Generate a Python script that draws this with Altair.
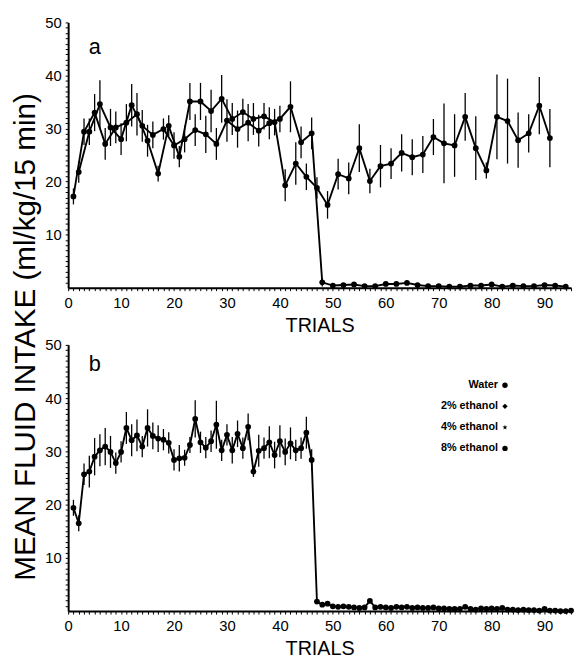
import altair as alt
import pandas as pd

# ---------------- data ----------------
# Panel a: water (odd trials) and ethanol (even trials)
water_trials = list(range(1, 92, 2))
water_mean = [17.2, 29.4, 33.0, 27.1, 30.2, 31.1, 32.7, 27.7, 21.5, 30.5,
              24.7, 35.1, 35.1, 33.3, 35.6, 31.8, 33.1, 31.8, 32.3, 31.2,
              19.3, 23.4, 20.9, 18.8, 15.6, 21.4, 20.6, 26.3, 20.1, 22.9,
              23.4, 25.4, 24.6, 25.1, 28.4, 27.2, 26.8, 32.2, 26.3, 22.1,
              32.2, 31.4, 27.8, 29.1, 34.3, 28.2]
water_sem = [1.5, 2.5, 3.5, 3.0, 3.0, 3.5, 4.0, 3.0, 1.5, 2.0,
             2.0, 3.5, 3.5, 4.0, 4.5, 3.0, 2.5, 3.0, 2.5, 2.5,
             3.0, 4.0, 2.5, 2.0, 2.6, 2.9, 3.0, 4.5, 2.3, 4.0,
             2.9, 3.5, 3.4, 3.5, 3.4, 7.5, 5.9, 4.5, 6.0, 1.5,
             8.0, 8.0, 5.2, 3.6, 5.4, 5.5]

eth_a_trials = list(range(2, 95, 2))
eth_a_mean = [21.8, 29.4, 34.6, 30.2, 28.0, 34.4, 30.5, 28.8, 29.9, 26.8,
              28.0, 29.7, 28.9, 27.1, 31.5, 29.9, 31.1, 29.6, 31.0, 31.8,
              34.1, 27.4, 29.1, 1.0, 0.4, 0.5, 0.6, 0.3, 0.3, 0.7,
              0.7, 0.9, 0.5, 0.3, 0.3, 0.2, 0.2, 0.4, 0.4, 0.6,
              0.2, 0.4, 0.3, 0.3, 0.5, 0.4, 0.2]
eth_a_sem = [2.0, 2.5, 4.5, 3.5, 3.0, 4.0, 3.0, 2.5, 2.0, 2.5,
             2.5, 3.0, 3.5, 3.0, 4.0, 3.5, 3.5, 3.0, 3.0, 2.5,
             4.8, 3.0, 3.0, 0.8, 0.3, 0.3, 0.3, 0.3, 0.3, 0.3,
             0.3, 0.3, 0.3, 0.3, 0.3, 0.3, 0.3, 0.3, 0.3, 0.3,
             0.3, 0.3, 0.3, 0.3, 0.3, 0.3, 0.3]

# Panel b: one ethanol series, every trial 1..95
b_trials = list(range(1, 96))
b_mean = [19.4, 16.5, 25.7, 26.2, 29.0, 30.2, 30.9, 29.9, 27.8, 29.9,
          34.4, 32.1, 33.0, 30.9, 34.4, 32.9, 32.4, 32.2, 31.6, 28.4,
          28.7, 28.8, 31.2, 36.1, 31.7, 30.7, 31.9, 35.0, 30.2, 33.1,
          30.2, 33.3, 30.6, 34.6, 26.2, 30.1, 30.6, 31.7, 29.3, 31.9,
          29.9, 31.5, 30.2, 30.6, 33.5, 28.4, 1.8, 1.2, 1.4, 0.9,
          0.8, 0.9, 0.8, 0.7, 0.6, 0.7, 1.9, 0.7, 0.8, 0.7,
          0.6, 0.8, 0.7, 0.8, 0.6, 0.7, 0.6, 0.6, 0.7, 0.5,
          0.5, 0.4, 0.4, 0.4, 0.8, 0.4, 0.3, 0.5, 0.4, 0.5,
          0.4, 0.6, 0.3, 0.3, 0.2, 0.3, 0.2, 0.2, 0.1, 0.4,
          0.1, 0.1, 0.0, 0.0, 0.1]
b_sem = [1.5, 1.5, 2.0, 3.0, 3.5, 3.0, 3.5, 3.0, 2.0, 2.0,
         3.0, 3.0, 3.0, 2.0, 3.5, 2.5, 2.5, 2.0, 2.0, 2.0,
         2.5, 1.5, 1.5, 3.5, 2.0, 2.0, 2.0, 4.5, 2.0, 2.0,
         2.5, 2.5, 2.0, 2.5, 1.0, 3.0, 2.0, 3.0, 2.5, 3.0,
         2.5, 3.0, 2.0, 2.0, 3.0, 2.0] + [0.3] * 49

legend_labels = ["Water", "2% ethanol", "4% ethanol", "8% ethanol"]
series_a = ["Water", "8% ethanol"]
series_b = "8% ethanol"
panel_letters = ["a", "b"]
x_ticks = list(range(0, 96))
y_ticks = list(range(1, 51))

# ---------------- tables ----------------
df_a = pd.concat([
    pd.DataFrame({"trial": water_trials, "mean": water_mean, "sem": water_sem,
                  "series": series_a[0]}),
    pd.DataFrame({"trial": eth_a_trials, "mean": eth_a_mean, "sem": eth_a_sem,
                  "series": series_a[1]}),
])
df_b = pd.DataFrame({"trial": b_trials, "mean": b_mean, "sem": b_sem,
                     "series": series_b})
for d in (df_a, df_b):
    d["lo"] = (d["mean"] - d["sem"]).clip(lower=0)
    d["hi"] = d["mean"] + d["sem"]
df_leg = pd.DataFrame({"label": legend_labels})

STAR = ("M0,-1L0.22,-0.31L0.95,-0.31L0.36,0.12L0.59,0.81L0,0.38L-0.59,0.81"
        "L-0.36,0.12L-0.95,-0.31L-0.22,-0.31Z")
FONT = "Liberation Sans"
shape_scale = alt.Scale(domain=legend_labels,
                        range=["circle", "diamond", STAR, "circle"])

label_expr = "datum.value % 10 === 0 ? datum.label : ''"
X_AXIS = alt.Axis(values=x_ticks, labelExpr=label_expr, title="TRIALS",
                  labelOverlap=False, labelFlush=False, grid=False,
                  tickSize=3, labelPadding=5, titlePadding=5)
Y_AXIS = alt.Axis(values=y_ticks, labelExpr=label_expr, title=None,
                  labelOverlap=False, grid=False, tickSize=3, labelPadding=4)
X_SCALE = alt.Scale(domain=[0, 95], nice=False)
Y_SCALE = alt.Scale(domain=[0, 50], nice=False)

W = 510
H_A, H_B = 269, 270


def data_layer(df):
    base = alt.Chart(df)
    x = alt.X("trial:Q", scale=X_SCALE, axis=X_AXIS)
    bars = base.mark_rule(color="black", strokeWidth=1.3).encode(
        x=x, y=alt.Y("lo:Q", scale=Y_SCALE, axis=Y_AXIS), y2="hi:Q")
    line = base.mark_line(color="black", strokeWidth=1.9).encode(
        x=x, y=alt.Y("mean:Q", scale=Y_SCALE, axis=Y_AXIS), detail="series:N")
    pts = base.mark_point(filled=True, color="black", opacity=1, size=34).encode(
        x=x, y=alt.Y("mean:Q", scale=Y_SCALE, axis=Y_AXIS),
        shape=alt.Shape("series:N", scale=shape_scale, legend=None))
    return alt.layer(bars, line, pts)


def letter(ch, dy):
    return alt.Chart(pd.DataFrame({"t": [ch]})).mark_text(
        align="left", baseline="alphabetic", font=FONT, fontSize=22,
        color="black").encode(x=alt.value(21), y=alt.value(dy), text="t:N")


panel_a = alt.layer(data_layer(df_a), letter(panel_letters[0], 32)).properties(
    width=W, height=H_A)

# key in panel b: label text, then its symbol on the right
leg_y = alt.Y("label:N", sort=legend_labels, axis=None,
              scale=alt.Scale(type="point", range=[41, 105], padding=0))
leg_text = alt.Chart(df_leg).mark_text(
    align="right", baseline="middle", font=FONT, fontSize=11,
    fontWeight="bold", color="black").encode(
    x=alt.value(436), y=leg_y, text="label:N")
leg_sym = alt.Chart(df_leg).mark_point(
    filled=True, color="black", opacity=1, size=30).encode(
    x=alt.value(443), y=leg_y,
    shape=alt.Shape("label:N", scale=shape_scale, legend=None))

panel_b = alt.layer(
    data_layer(df_b), letter(panel_letters[1], 27),
    alt.layer(leg_text, leg_sym),
).resolve_scale(y="independent").properties(width=W, height=H_B)

chart = alt.vconcat(panel_a, panel_b, spacing=3).properties(
    title=alt.TitleParams("MEAN FLUID INTAKE (ml/kg/15 min)", orient="left",
                          anchor="middle", fontSize=30, fontWeight="normal",
                          font=FONT, offset=4),
    padding={"left": 3, "top": 3, "right": 0, "bottom": 0},
).configure_view(stroke=None).configure_axis(
    domainColor="black", domainWidth=2, tickColor="black", tickWidth=1,
    labelColor="black", labelFont=FONT, labelFontSize=15,
    titleColor="black", titleFont=FONT, titleFontSize=20,
    titleFontWeight="normal",
)

chart.save("out.html", embed_options={"renderer": "svg", "actions": False})
